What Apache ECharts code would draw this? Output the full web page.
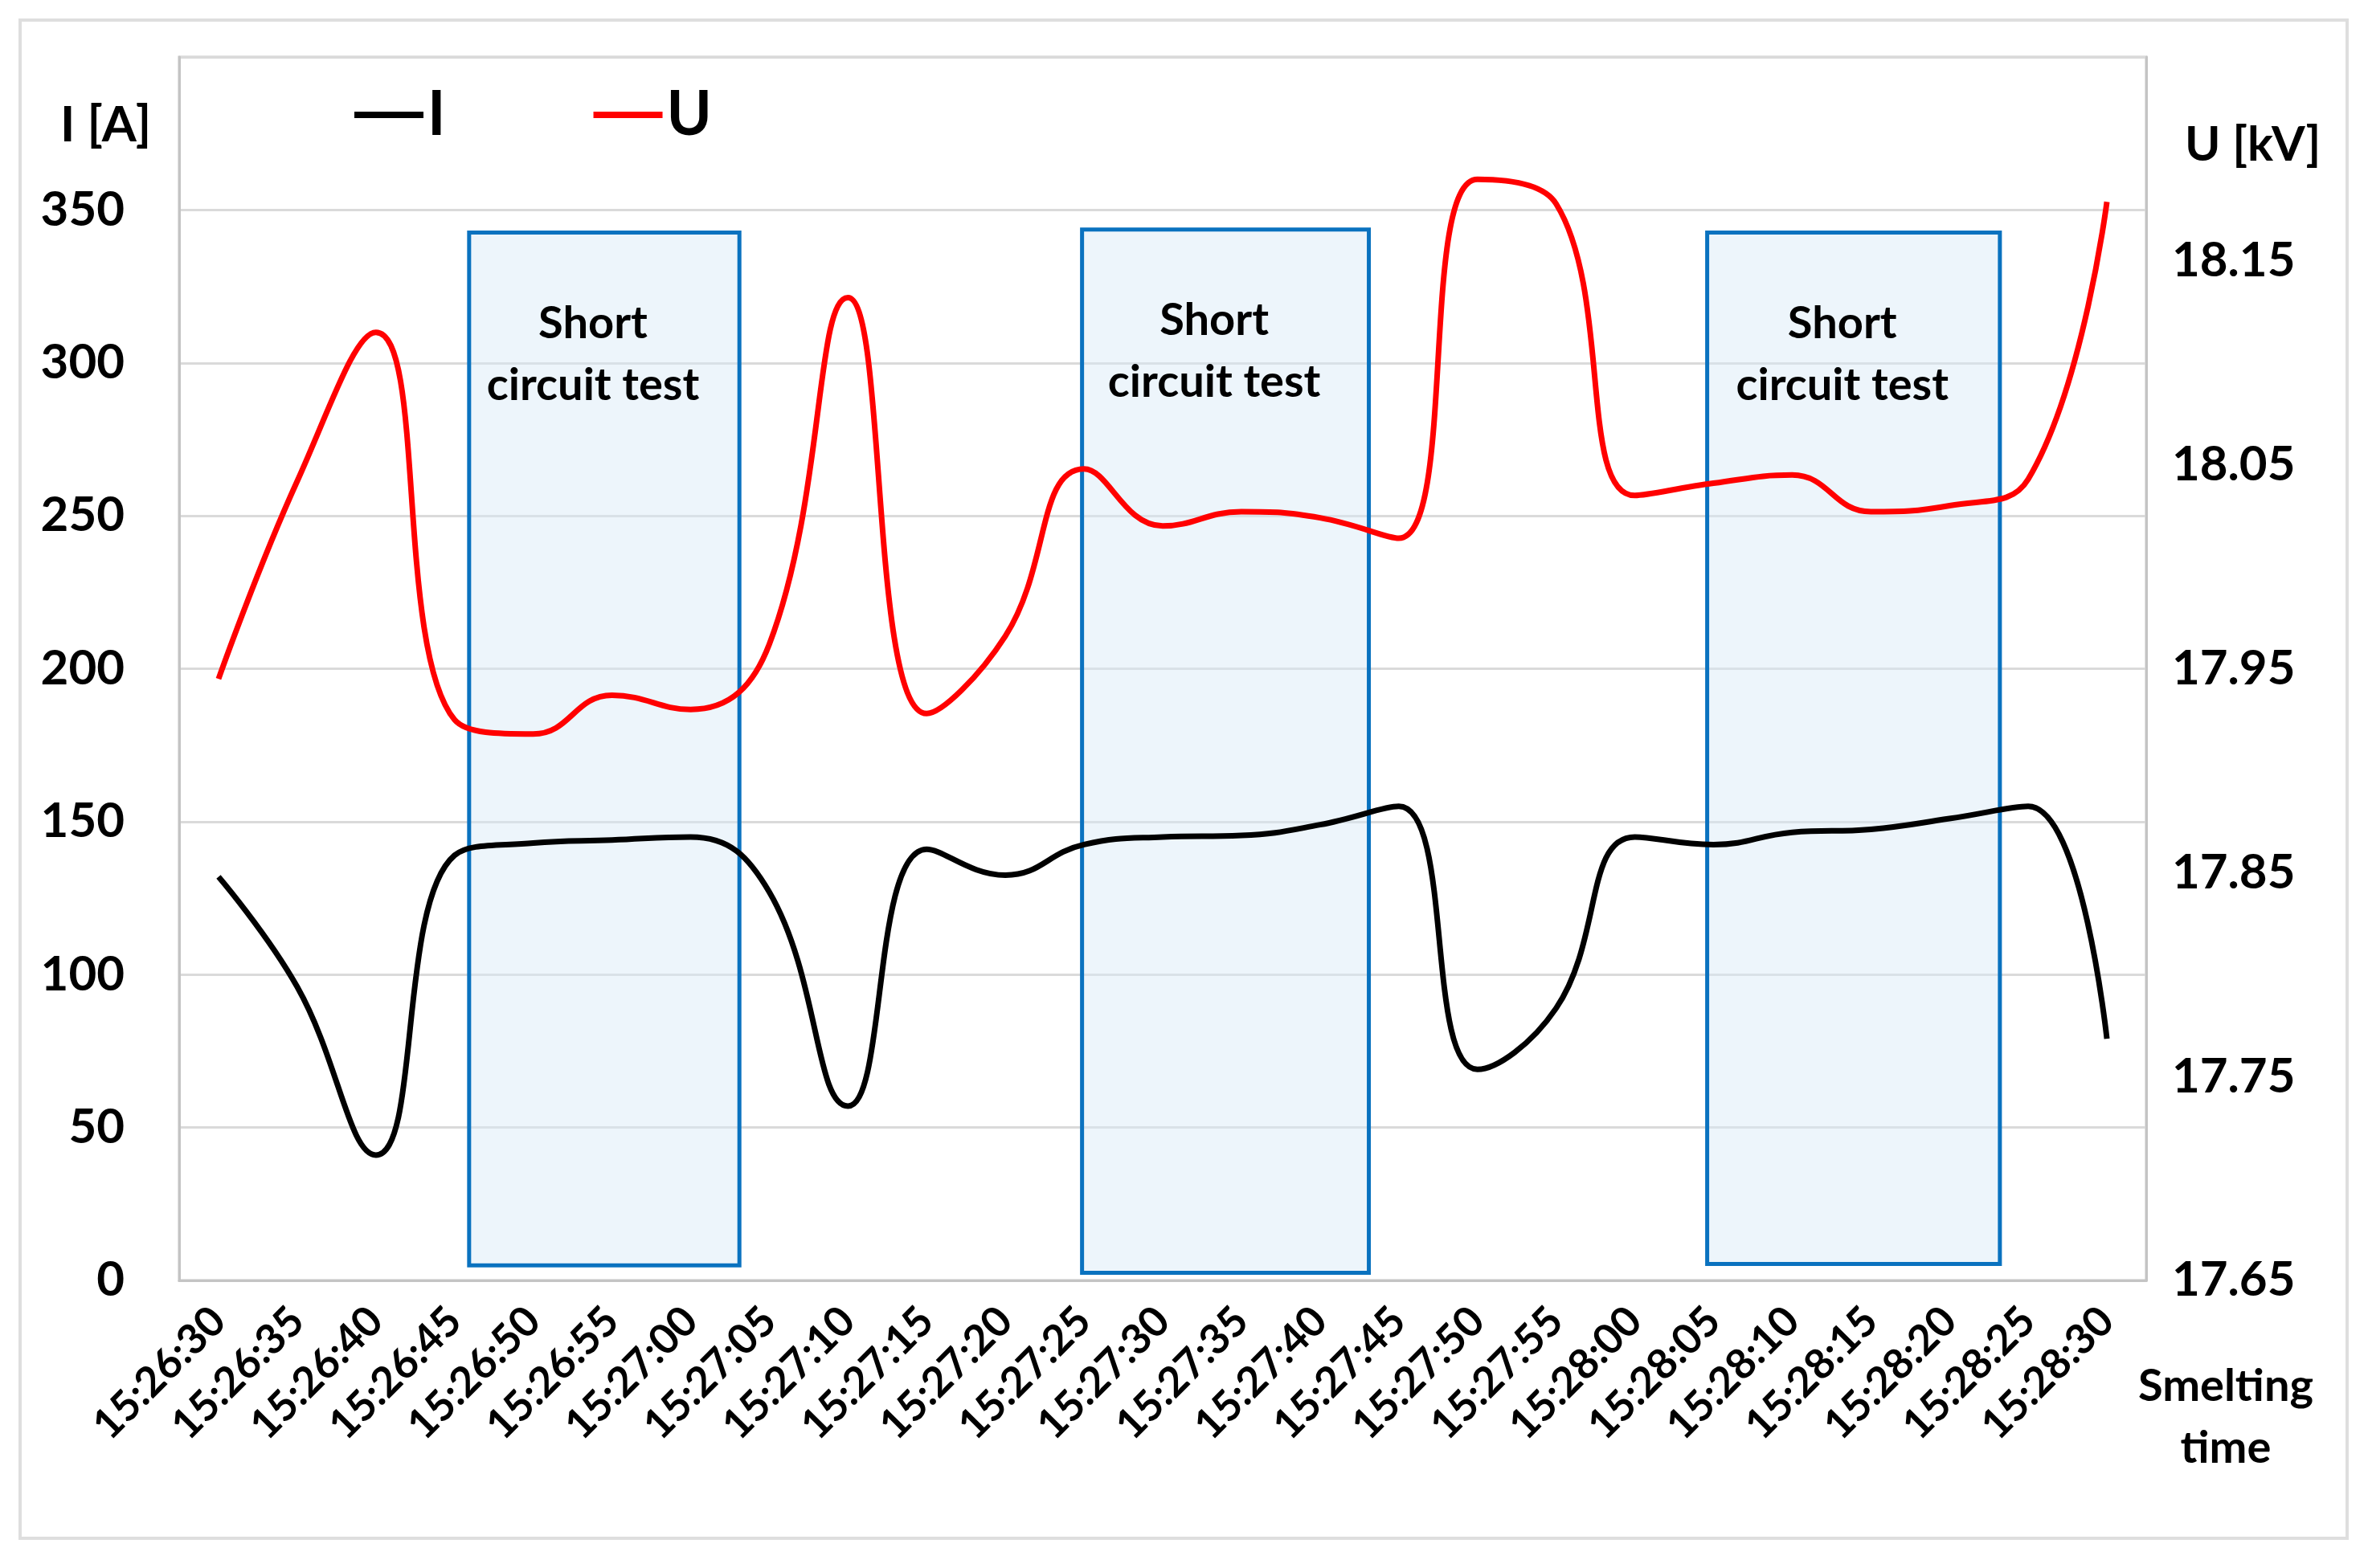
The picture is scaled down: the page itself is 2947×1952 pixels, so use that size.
<!DOCTYPE html>
<html><head><meta charset="utf-8">
<script src="https://cdn.jsdelivr.net/npm/echarts@6/dist/echarts.min.js"></script>
<style>
html,body{margin:0;padding:0;background:#fff;overflow:hidden}
#frame{position:absolute;left:23px;top:23px;width:2892px;height:1886px;border:4px solid #dedede;}
#c{position:absolute;left:0;top:0;width:2947px;height:1952px;}
</style></head><body>
<div id="frame"></div><div id="c"></div>
<script>
const categories = ['15:26:30','15:26:35','15:26:40','15:26:45','15:26:50','15:26:55','15:27:00','15:27:05','15:27:10','15:27:15','15:27:20','15:27:25','15:27:30','15:27:35','15:27:40','15:27:45','15:27:50','15:27:55','15:28:00','15:28:05','15:28:10','15:28:15','15:28:20','15:28:25','15:28:30'];
const currentI = [132, 96, 41, 139, 143, 144, 145, 127, 57, 141, 132.5, 142.5, 145, 145.5, 149, 155, 69, 89, 145, 142.5, 146.5, 147.5, 151, 155, 79];
const voltageU = [17.945, 18.042, 18.115, 17.925, 17.918, 17.937, 17.93, 17.962, 18.132, 17.928, 17.966, 18.048, 18.02, 18.027, 18.024, 18.014, 18.19, 18.178, 18.035, 18.041, 18.045, 18.027, 18.03, 18.043, 18.179];
const leftTickLabels = ['0','50','100','150','200','250','300','350'];
const rightTickLabels = ['17.65','17.75','17.85','17.95','18.05','18.15'];
// short circuit test windows (in category-index units) and their current-axis extent
const testStart = [3.185, 10.975, 18.92];
const testEnd = [6.62, 14.62, 22.64];
const testTop = [342.6, 343.6, 342.6];
const testBottom = [4.9, 2.5, 5.4];
const testLabel = 'Short\ncircuit test';

const FONT = 'Lato';
const chart = echarts.init(document.getElementById('c'));
const boxData = testStart.map((s, k) => [
  {xAxis: s, yAxis: testTop[k]},
  {xAxis: testEnd[k], yAxis: testBottom[k]}
]);
chart.setOption({
  animation: false,
  backgroundColor: 'transparent',
  textStyle: {fontFamily: FONT},
  title: [
    {text: 'I [A]', left: 70, top: 120, textStyle: {fontFamily: FONT, fontSize: 62, fontWeight: 'bold', color: '#000'}},
    {text: 'U [kV]', left: 2714, top: 146, textStyle: {fontFamily: FONT, fontSize: 60, fontWeight: 'bold', color: '#000'}},
    {text: 'Smelting\ntime', left: 2765, top: 1682, textAlign: 'center', textStyle: {fontFamily: FONT, fontSize: 56, lineHeight: 77, fontWeight: 'bold', color: '#000'}}
  ],
  legend: {
    data: ['I', 'U'], left: 436, top: 100, icon: 'rect', itemWidth: 86, itemHeight: 8, itemGap: 184,
    textStyle: {fontFamily: FONT, fontSize: 76, fontWeight: 'bold', color: '#000', padding: [0,0,0,0]}
  },
  grid: {left: 223, right: 276, top: 71, bottom: 358, show: true, borderColor: '#c4c4c4', borderWidth: 3, outerBoundsMode: 'none', containLabel: false},
  xAxis: [
    {type: 'category', data: categories, boundaryGap: true,
     axisLine: {show: true, onZero: false, lineStyle: {color: '#c4c4c4', width: 3}}, axisTick: {show: false},
     axisLabel: {interval: 0, rotate: 45, margin: 42, fontFamily: FONT, fontSize: 52, fontWeight: 'bold', color: '#000'},
     splitLine: {show: false}},
    {type: 'value', min: -0.5, max: 24.5, show: false, axisLine: {show: false, onZero: false}}
  ],
  yAxis: [
    {type: 'value', min: 0, max: 400, interval: 50, position: 'left',
     axisLine: {show: true, onZero: false, lineStyle: {color: '#c4c4c4', width: 3}}, axisTick: {show: false},
     axisLabel: {margin: 68, fontFamily: FONT, fontSize: 60, fontWeight: 'bold', color: '#000',
       formatter: v => leftTickLabels.includes(String(Math.round(v))) ? String(Math.round(v)) : ''},
     splitLine: {show: true, lineStyle: {color: '#dadada', width: 3}}},
    {type: 'value', min: 17.65, max: 18.25, interval: 0.05, position: 'right',
     axisLine: {show: true, onZero: false, lineStyle: {color: '#c4c4c4', width: 3}}, axisTick: {show: false},
     axisLabel: {margin: 32, fontFamily: FONT, fontSize: 60, fontWeight: 'bold', color: '#000',
       formatter: v => { const s = (Math.round(v * 100) / 100).toFixed(2); return rightTickLabels.includes(s) ? s : ''; }},
     splitLine: {show: false}}
  ],
  series: [
    {name: 'tests', type: 'line', xAxisIndex: 1, yAxisIndex: 0, data: [], z: 1, silent: true,
     markArea: {silent: true,
       itemStyle: {color: 'rgba(214,232,246,0.45)', borderColor: '#0a72bf', borderWidth: 5},
       label: {show: true, position: 'insideTop', offset: [-14, 72], formatter: testLabel,
         fontFamily: FONT, fontSize: 56, lineHeight: 77, fontWeight: 'bold', color: '#000', align: 'center'},
       data: boxData}},
    {name: 'I', type: 'line', xAxisIndex: 0, yAxisIndex: 0, data: currentI, smooth: 0.45, symbol: 'none', z: 5,
     lineStyle: {color: '#000', width: 7}, itemStyle: {color: '#000'}},
    {name: 'U', type: 'line', xAxisIndex: 0, yAxisIndex: 1, data: voltageU, smooth: 0.45, symbol: 'none', z: 5,
     lineStyle: {color: '#ff0000', width: 7}, itemStyle: {color: '#ff0000'}}
  ]
});
</script>
</body></html>
